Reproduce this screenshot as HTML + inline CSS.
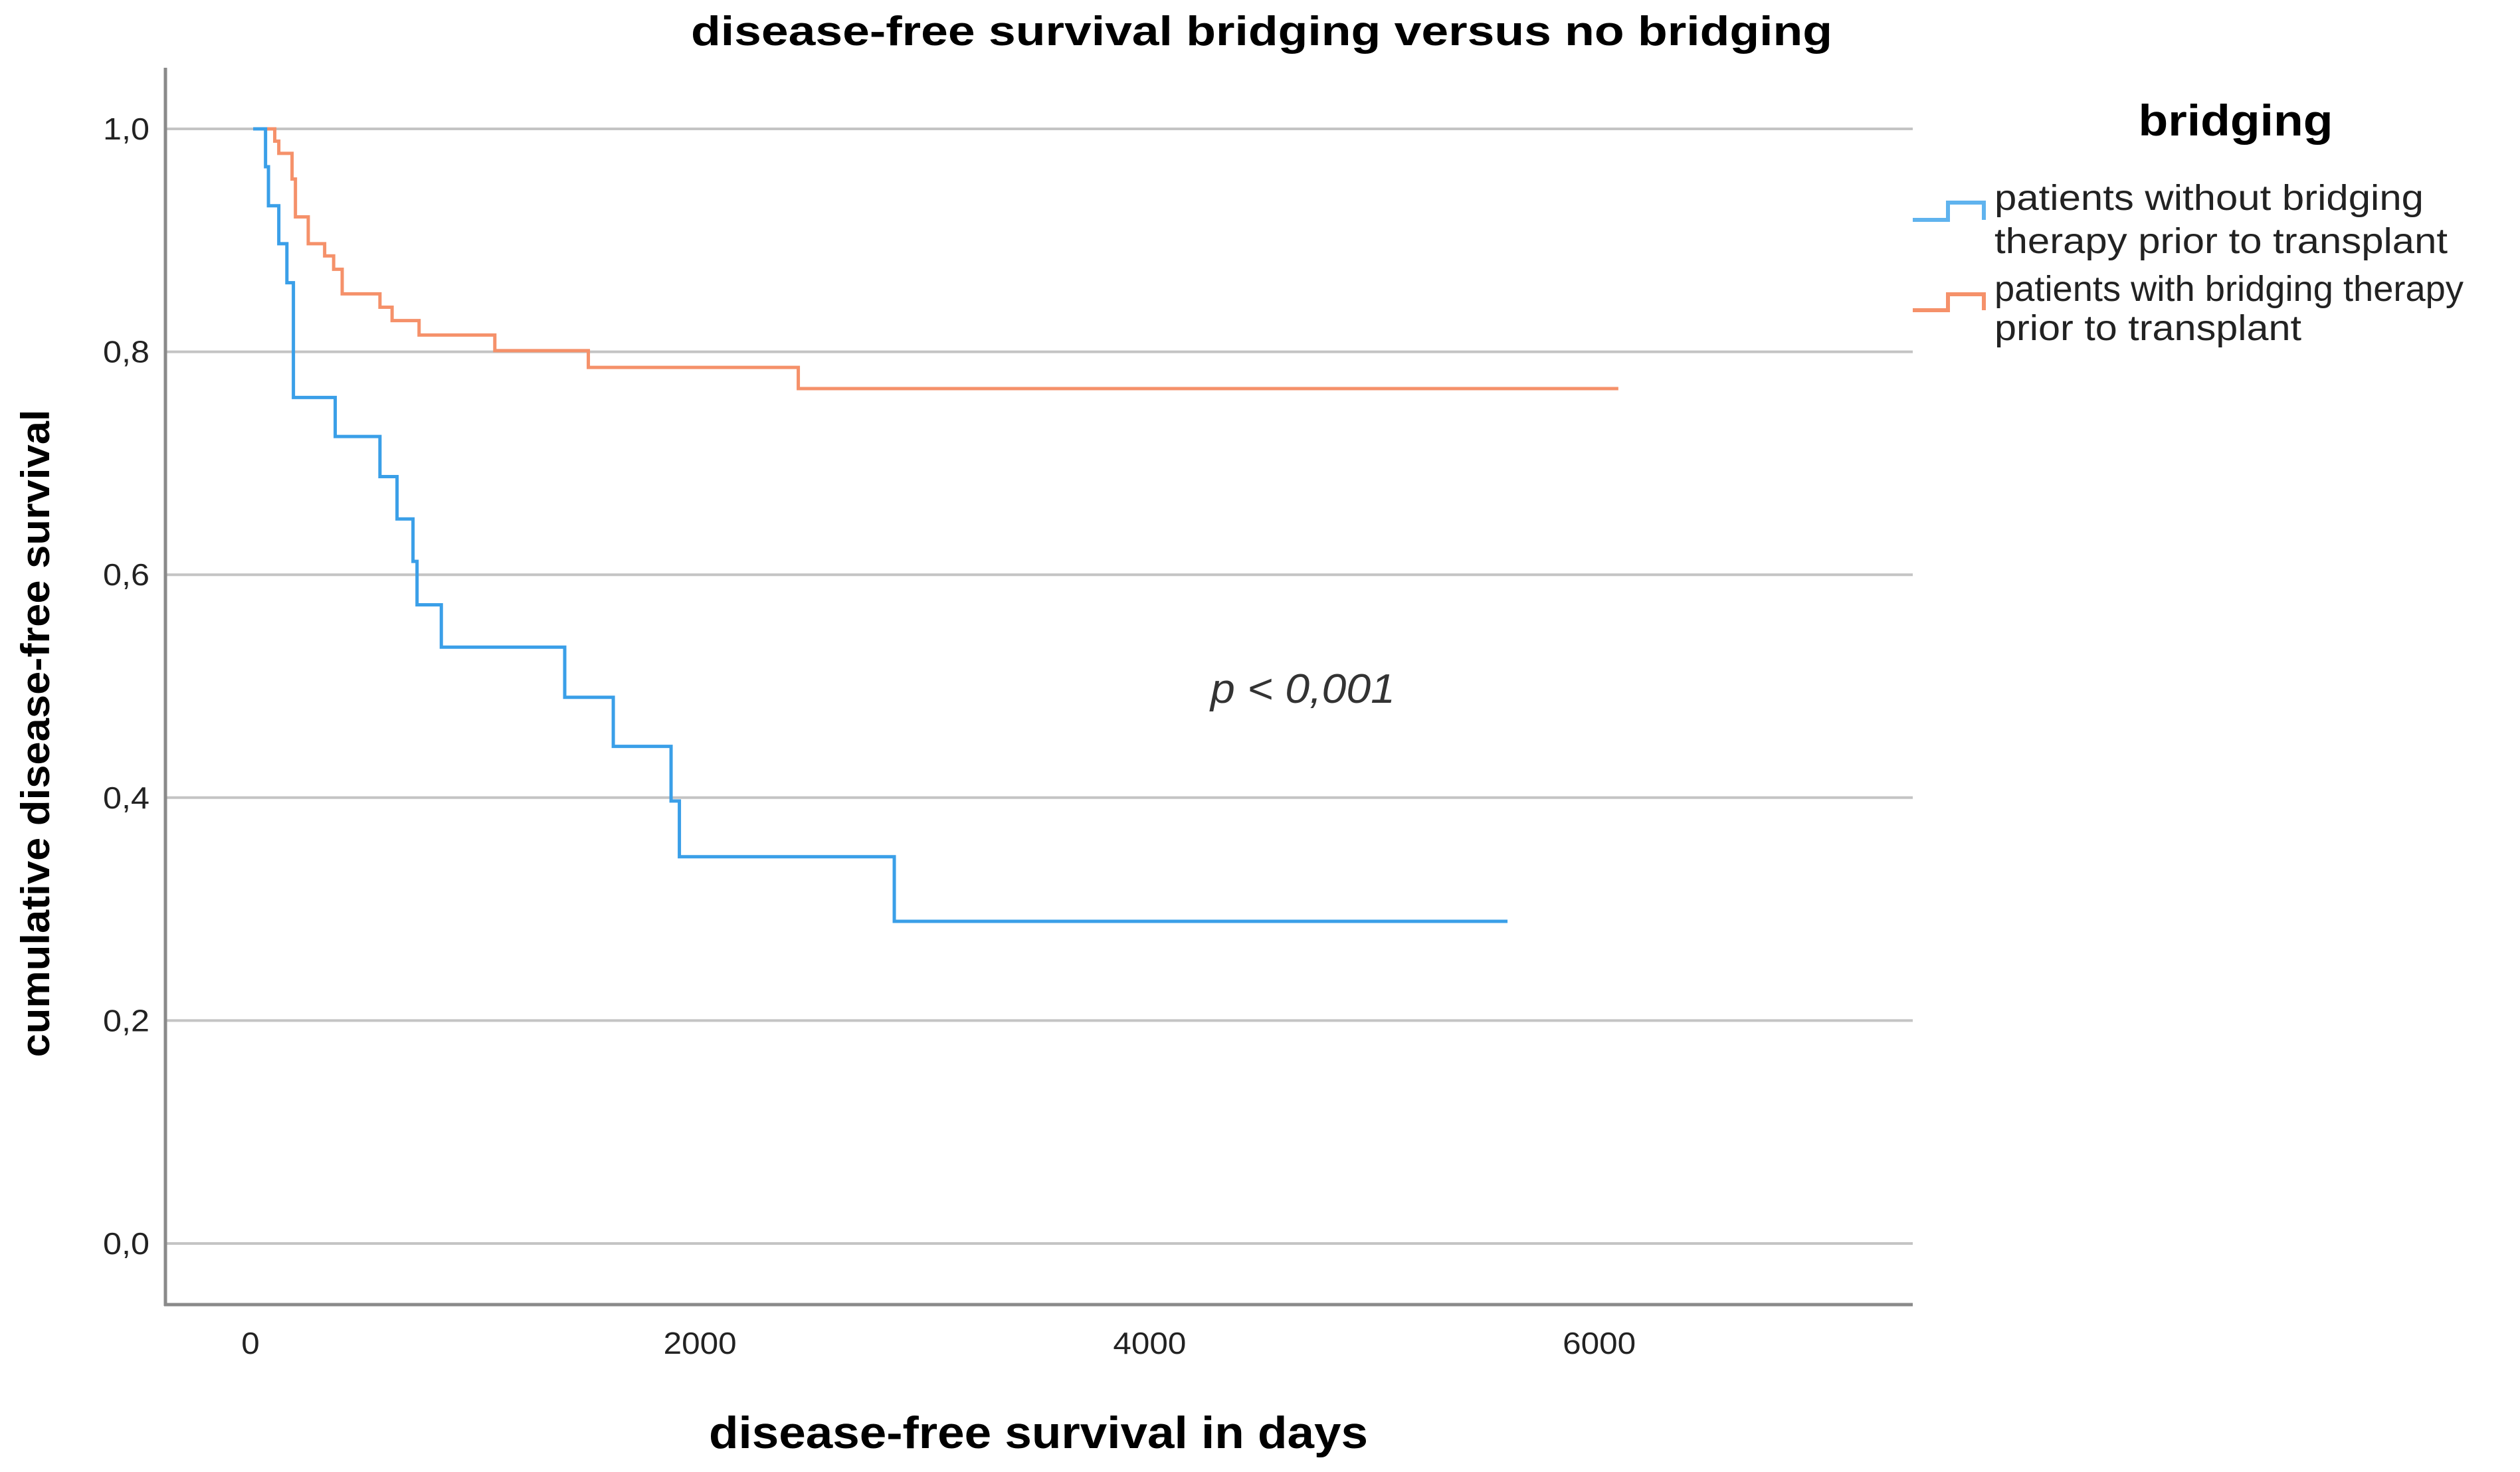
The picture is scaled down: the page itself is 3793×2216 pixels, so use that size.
<!DOCTYPE html>
<html><head><meta charset="utf-8"><style>
html,body{margin:0;padding:0;background:#fff;}
svg{display:block;font-family:"Liberation Sans",sans-serif;}
</style></head><body>
<svg id="chart" width="3793" height="2216" viewBox="0 0 3793 2216" xmlns="http://www.w3.org/2000/svg">
<rect width="3793" height="2216" fill="#fff"/>
<text x="1899" y="68" text-anchor="middle" font-size="62" font-weight="bold" textLength="1718" lengthAdjust="spacingAndGlyphs">disease-free survival bridging versus no bridging</text>
<g id="grid"></g>
<g id="ticks"></g>
<g id="series"></g>
<line x1="249" y1="102" x2="249" y2="1966" stroke="#8a8a8a" stroke-width="5"/>
<line x1="247" y1="1964" x2="2879" y2="1964" stroke="#8a8a8a" stroke-width="5"/>
<text transform="translate(74,1104) rotate(-90)" text-anchor="middle" font-size="60" font-weight="bold" textLength="975" lengthAdjust="spacingAndGlyphs">cumulative disease-free survival</text>
<text x="1563" y="2180" text-anchor="middle" font-size="68" font-weight="bold" textLength="992" lengthAdjust="spacingAndGlyphs">disease-free survival in days</text>
<text x="1822" y="1058" font-size="62" font-style="italic" fill="#333" textLength="278" lengthAdjust="spacingAndGlyphs">p &lt; 0,001</text>
<g>
<text x="3365" y="204" text-anchor="middle" font-size="66" font-weight="bold" textLength="293" lengthAdjust="spacingAndGlyphs">bridging</text>
<path d="M2879,331 H2932 V305 H2986 V331" fill="none" stroke="#5fb3ee" stroke-width="6"/>
<text font-size="54" fill="#222"><tspan x="3002" y="316" textLength="646" lengthAdjust="spacingAndGlyphs">patients without bridging</tspan><tspan x="3002" y="381" textLength="682" lengthAdjust="spacingAndGlyphs">therapy prior to transplant</tspan></text>
<path d="M2879,467 H2932 V443 H2986 V467" fill="none" stroke="#f5916a" stroke-width="6"/>
<text font-size="54" fill="#222"><tspan x="3002" y="453" textLength="706" lengthAdjust="spacingAndGlyphs">patients with bridging therapy</tspan><tspan x="3002" y="512" textLength="462" lengthAdjust="spacingAndGlyphs">prior to transplant</tspan></text>
</g>
</svg>
<script>
const yTicks = [0, 0.2, 0.4, 0.6, 0.8, 1.0];
const yTickLabels = ["0,0", "0,2", "0,4", "0,6", "0,8", "1,0"];
const xTicks = [0, 2000, 4000, 6000];
const xTickLabels = ["0", "2000", "4000", "6000"];
const noBridgeTimes = [12, 67, 80, 126, 162, 191, 377, 576, 652, 723, 741, 849, 1398, 1614, 1871, 1908, 2864, 5592];
const noBridgeSurv = [1.0, 0.966, 0.931, 0.897, 0.862, 0.759, 0.724, 0.688, 0.650, 0.612, 0.573, 0.535, 0.490, 0.446, 0.397, 0.347, 0.289, 0.289];
const bridgeTimes = [12, 108, 126, 185, 200, 257, 330, 370, 408, 576, 630, 750, 1087, 1503, 2437, 6085];
const bridgeSurv = [1.0, 0.989, 0.978, 0.955, 0.921, 0.897, 0.886, 0.874, 0.852, 0.840, 0.828, 0.815, 0.801, 0.786, 0.767, 0.767];

const NS = "http://www.w3.org/2000/svg";
function xs(t){ return 377 + t / 2000 * 676.7; }
function ys(v){ return 1872 - v * 1678; }
function mk(tag, attrs, parent){
  const e = document.createElementNS(NS, tag);
  for (const k in attrs) e.setAttribute(k, attrs[k]);
  parent.appendChild(e);
  return e;
}
const grid = document.getElementById('grid');
const ticks = document.getElementById('ticks');
yTicks.forEach((v, i) => {
  const l = mk('line', {x1: 249, x2: 2879, y1: ys(v), y2: ys(v), stroke: '#c4c4c4', 'stroke-width': 4}, grid);
  
  
  const t = mk('text', {x: 225, y: ys(v) + 16, 'text-anchor': 'end', 'font-size': 46, fill: '#222', textLength: 70, lengthAdjust: 'spacingAndGlyphs'}, ticks);
  t.textContent = yTickLabels[i];
  
  
});
xTicks.forEach((v, i) => {
  const t = mk('text', {x: xs(v), y: 2038, 'text-anchor': 'middle', 'font-size': 46, fill: '#222', textLength: String(xTickLabels[i]).length * 27.5, lengthAdjust: 'spacingAndGlyphs'}, ticks);
  t.textContent = xTickLabels[i];
  
  
});
function stepPath(times, surv){
  let d = 'M' + xs(times[0]) + ',' + ys(surv[0]);
  for (let i = 1; i < times.length; i++){
    d += ' H' + xs(times[i]) + ' V' + ys(surv[i]);
  }
  return d;
}
const series = document.getElementById('series');
const pb = mk('path', {d: stepPath(bridgeTimes, bridgeSurv), fill: 'none', stroke: '#f5916a', 'stroke-width': 5}, series);


const pn = mk('path', {d: stepPath(noBridgeTimes, noBridgeSurv), fill: 'none', stroke: '#3a9fe8', 'stroke-width': 5}, series);


</script>
</body></html>
